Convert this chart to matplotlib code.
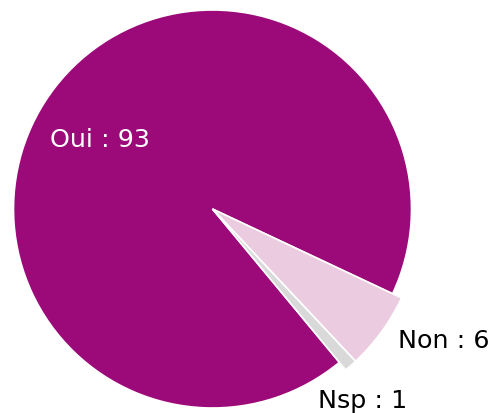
import matplotlib.pyplot as plt

categories = ['Oui', 'Non', 'Nsp']
values = [93, 6, 1]
colors = ['#9c0a7a', '#ebcbe0', '#d9d9d9']
radii = [1.0, 1.05, 1.05]

W, H = 493, 414
cx, cy, R = 212.5, 210, 199.0

fig = plt.figure(figsize=(W / 100, H / 100), dpi=100)
ax = fig.add_axes([0, 0, 1, 1])
ax.set_aspect('equal')
ax.axis('off')

wedges, _ = ax.pie(values, colors=colors, startangle=309.6, counterclock=False,
                   wedgeprops=dict(edgecolor='white', linewidth=1.2))
for w, r in zip(wedges, radii):
    w.set_radius(r)
ax.set_xlim(-cx / R, (W - cx) / R)
ax.set_ylim(-(H - cy) / R, cy / R)

# label positions in pixels (left x, baseline y)
label_pos = [(50, 147), (398, 348), (318, 408)]
label_col = ['white', 'black', 'black']
for name, v, (px, py), c in zip(categories, values, label_pos, label_col):
    ax.text((px - cx) / R, (cy - py) / R, f'{name} : {v}', color=c,
            fontsize=18.3, ha='left', va='baseline', family='DejaVu Sans')

fig.savefig('out.png', dpi=100)
